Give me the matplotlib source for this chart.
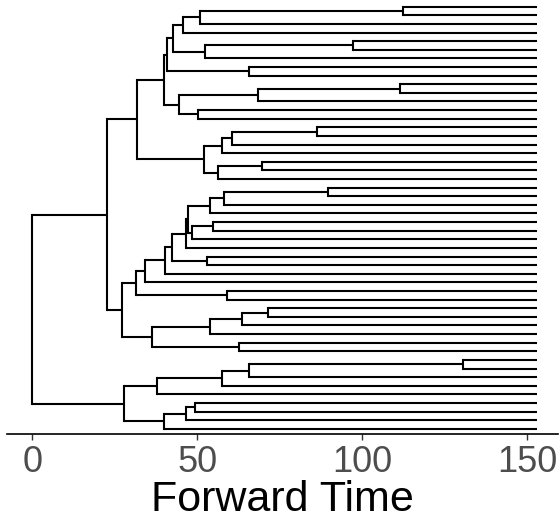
import matplotlib
matplotlib.use("Agg")
import matplotlib.pyplot as plt
from matplotlib.collections import LineCollection

# ---- data -------------------------------------------------------------
# tips listed top to bottom
tip_labels = [f"t{i}" for i in range(1, 51)]
tip_time = 153.0

# internal nodes: (name, child_a, child_b, time)
node_names = [
    "n1_2", "n1_3", "n1_4", "n5_6", "n5_7", "n1_7", "n8_9", "n1_9",
    "n10_11", "n10_12", "n13_14", "n10_14", "n1_14",
    "n15_16", "n15_17", "n15_18", "n19_20", "n19_21", "n15_21", "n1_21",
    "n22_23", "n22_24", "n22_25", "n26_27", "n26_28", "n22_28", "n22_29",
    "n30_31", "n22_31", "n22_32", "n22_33", "n34_35", "n22_35",
    "n36_37", "n36_38", "n36_39", "n40_41", "n36_41", "n22_41", "n1_41",
    "n42_43", "n42_44", "n42_45", "n42_46", "n47_48", "n47_49", "n47_50",
    "n42_50", "root",
]
node_child_a = [
    "t1", "n1_2", "n1_3", "t5", "n5_6", "n1_4", "t8", "n1_7",
    "t10", "n10_11", "t13", "n10_12", "n1_9",
    "t15", "n15_16", "n15_17", "t19", "n19_20", "n15_18", "n1_14",
    "t22", "n22_23", "n22_24", "t26", "n26_27", "n22_25", "n22_28",
    "t30", "n22_29", "n22_31", "n22_32", "t34", "n22_33",
    "t36", "n36_37", "n36_38", "t40", "n36_39", "n22_35", "n1_21",
    "t42", "n42_43", "n42_44", "n42_45", "t47", "n47_48", "n47_49",
    "n42_46", "n1_41",
]
node_child_b = [
    "t2", "t3", "t4", "t6", "t7", "n5_7", "t9", "n8_9",
    "t11", "t12", "t14", "n13_14", "n10_14",
    "t16", "t17", "t18", "t20", "t21", "n19_21", "n15_21",
    "t23", "t24", "t25", "t27", "t28", "n26_28", "t29",
    "t31", "n30_31", "t32", "t33", "t35", "n34_35",
    "t37", "t38", "t39", "t41", "n40_41", "n36_41", "n22_41",
    "t43", "t44", "t45", "t46", "t48", "t49", "t50",
    "n47_50", "n42_50",
]
node_time = [
    112.2, 50.8, 45.6, 97.1, 52.3, 42.5, 65.7, 40.7,
    111.4, 68.3, 50.1, 44.5, 40.0,
    86.2, 60.6, 57.6, 69.7, 56.2, 52.0, 31.6,
    89.5, 58.1, 53.8, 54.8, 48.3, 47.3, 46.5,
    52.8, 42.2, 40.2, 34.2, 58.9, 31.4,
    71.5, 63.5, 53.8, 62.7, 36.2, 27.1, 22.6,
    130.6, 65.8, 57.4, 37.7, 49.4, 46.5, 39.9,
    27.8, 0.0,
]
x_ticks = [0, 50, 100, 150]
x_label = "Forward Time"

# ---- layout of the tree ----------------------------------------------
n_tips = len(tip_labels)
xpos = {t: tip_time for t in tip_labels}
ypos = {t: n_tips - i for i, t in enumerate(tip_labels)}
for name, a, b, t in zip(node_names, node_child_a, node_child_b, node_time):
    xpos[name] = t
    ypos[name] = (ypos[a] + ypos[b]) / 2.0

h_segs, v_segs = [], []
for name, a, b in zip(node_names, node_child_a, node_child_b):
    px = xpos[name]
    for c in (a, b):
        h_segs.append([(px, ypos[c]), (xpos[c], ypos[c])])
    v_segs.append([(px, ypos[a]), (px, ypos[b])])
# tiny root stub as drawn by ggtree
h_segs.append([(0.0, ypos["root"]), (0.3, ypos["root"])])

# ---- figure -------------------------------------------------------------
plt.rcParams['font.family'] = ['Liberation Sans', 'DejaVu Sans']
W, H = 559, 522
fig = plt.figure(figsize=(W / 100, H / 100), dpi=100)
left_px, right_px, bottom_px, top_px = 7.3, 558.0, 434.3, 0.0
ax = fig.add_axes([left_px / W, (H - bottom_px) / H,
                   (right_px - left_px) / W, (bottom_px - top_px) / H])

lw = 1.5
ax.add_collection(LineCollection(h_segs, colors="black", linewidths=lw,
                                 capstyle="butt"))
ax.add_collection(LineCollection(v_segs, colors="black", linewidths=lw,
                                 capstyle="projecting"))

px_per_unit = 3.3
ax.set_xlim(-(32.3 - left_px) / px_per_unit, (right_px - 32.3) / px_per_unit)
tip_sp = 8.617
ax.set_ylim(1 - (bottom_px - 428.8) / tip_sp, n_tips + 6.7 / tip_sp)

for s in ("top", "right", "left"):
    ax.spines[s].set_visible(False)
ax.spines["bottom"].set_linewidth(1.2)
ax.spines["bottom"].set_color("black")
ax.set_yticks([])
ax.set_xticks(x_ticks)
ax.set_xticklabels([str(v) for v in x_ticks])
ax.tick_params(axis="x", length=4, width=1.0, color="#333333",
               labelcolor="#4D4D4D", labelsize=26, pad=4)
ax.set_xlabel(x_label, fontsize=31, color="black", labelpad=0)

fig.savefig("out.png", dpi=100)
